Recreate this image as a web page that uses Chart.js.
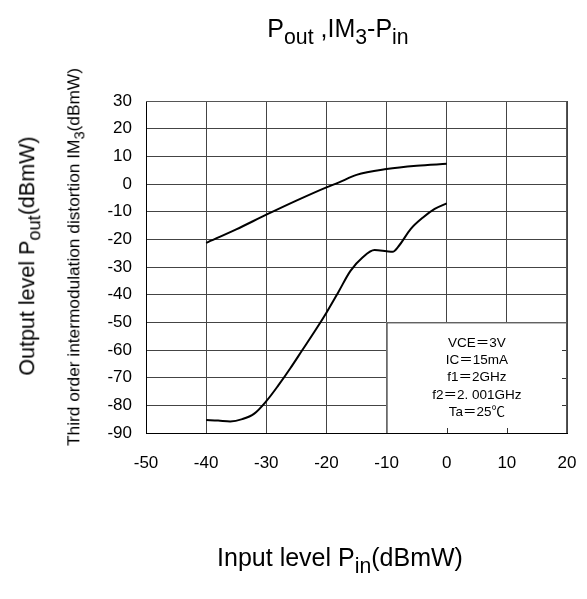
<!DOCTYPE html>
<html>
<head>
<meta charset="utf-8">
<script src="https://cdn.jsdelivr.net/npm/chart.js@4/dist/chart.umd.min.js"></script>
<style>
  html, body { margin: 0; padding: 0; background: #fff; }
  #wrap { position: relative; width: 587px; height: 599px; font-family: "Liberation Sans", Arial, sans-serif; color: #000; }
  #wrap canvas { position: absolute; left: 0; top: 0; }
  .lbl { position: absolute; white-space: nowrap; line-height: 1; }
  .lbl sub { font-size: 0.85em; vertical-align: -0.32em; line-height: 0; }
  #title { left: 338px; top: 16px; font-size: 25px; transform: translateX(-50%); }
  #xtitle { left: 340px; top: 545px; font-size: 25px; transform: translateX(-50%); }
  #ytitle1 { left: 28px; top: 256px; font-size: 21.5px; transform: translate(-50%, -50%) rotate(-90deg); }
  #ytitle2 { left: 74px; top: 257px; font-size: 17.3px; transform: translate(-50%, -50%) rotate(-90deg); }
</style>
</head>
<body>
<div id="wrap">
  <canvas id="c" width="587" height="599"></canvas>
  <div class="lbl" id="title">P<sub>out</sub> ,IM<sub>3</sub>-P<sub>in</sub></div>
  <div class="lbl" id="xtitle">Input level P<sub>in</sub>(dBmW)</div>
  <div class="lbl" id="ytitle1">Output level P<sub>out</sub>(dBmW)</div>
  <div class="lbl" id="ytitle2">Third order intermodulation distortion IM<sub>3</sub>(dBmW)</div>
</div>
<script>
// Input level (dBmW) and output power Pout (dBmW)
const poutPin    = [-40, -35, -30, -25, -20, -18, -15, -10, -5, 0];
const poutValues = [-21.3, -16.4, -11.1, -6.0, -1.2, 0.5, 3.3, 5.4, 6.6, 7.3];

// Input level (dBmW) and third order intermodulation IM3 (dBmW)
const im3Pin    = [-40, -38, -36, -34, -32, -30, -28, -26, -24, -22, -20, -18, -16, -14, -12, -10, -9, -8, -6, -4, -2, 0];
const im3Values = [-85.3, -85.5, -85.8, -85.0, -83.0, -78.5, -72.8, -66.6, -60.0, -53.4, -46.5, -39.0, -31.4, -26.6, -23.9, -24.3, -24.5, -22.5, -16.3, -12.2, -9.0, -7.0];

// Axis ranges and tick spacing
const xTicks = { min: -50, max: 20, step: 10 };
const yTicks = { min: -90, max: 30, step: 10 };

// Measurement conditions shown in the box
const conditionLines = ['VCE＝3V', 'IC＝15mA', 'f1＝2GHz', 'f2＝2. 001GHz', 'Ta＝25℃'];
// Box extent in data units: [xFrom, xTo, yFrom, yTo]
const conditionBox = [-10, 20, -90, -50];

const toPoints = (xs, ys) => xs.map((x, i) => ({ x, y: ys[i] }));

const conditionsPlugin = {
  id: 'conditions',
  beforeDatasetsDraw(chart) {
    const { ctx, chartArea, scales: { x, y } } = chart;
    const [x0v, x1v, y0v, y1v] = conditionBox;
    const left = x.getPixelForValue(x0v), right = x.getPixelForValue(x1v);
    const bottom = y.getPixelForValue(y0v), top = y.getPixelForValue(y1v);
    ctx.save();
    ctx.fillStyle = '#fff';
    ctx.fillRect(left, top, right - left, bottom - top);
    ctx.strokeStyle = '#333';
    ctx.lineWidth = 1;
    ctx.beginPath();
    ctx.moveTo(left + 0.5, bottom);
    ctx.lineTo(left + 0.5, top + 0.5);
    ctx.lineTo(right, top + 0.5);
    ctx.stroke();
    // short inner tick marks along the frame
    ctx.beginPath();
    for (let v = x0v + xTicks.step; v < x1v; v += xTicks.step) {
      const px = Math.round(x.getPixelForValue(v)) + 0.5;
      ctx.moveTo(px, bottom); ctx.lineTo(px, bottom - 5);
    }
    for (let v = y0v + yTicks.step; v < y1v; v += yTicks.step) {
      const py = Math.round(y.getPixelForValue(v)) + 0.5;
      ctx.moveTo(right, py); ctx.lineTo(right - 5, py);
    }
    ctx.stroke();
    // top and right frame of the plot area
    ctx.strokeStyle = '#555';
    ctx.beginPath();
    ctx.moveTo(chartArea.left, Math.round(chartArea.top) + 0.5);
    ctx.lineTo(Math.round(chartArea.right) - 0.5, Math.round(chartArea.top) + 0.5);
    ctx.lineTo(Math.round(chartArea.right) - 0.5, chartArea.bottom);
    ctx.stroke();
    ctx.fillStyle = '#000';
    ctx.font = '13.5px "Liberation Sans", Arial, "Noto Sans CJK JP", sans-serif';
    ctx.textAlign = 'center';
    ctx.textBaseline = 'middle';
    const cx = (left + right) / 2, cy = (top + bottom) / 2;
    const lh = 17.3;
    conditionLines.forEach((t, i) => {
      ctx.fillText(t, cx, cy + (i - (conditionLines.length - 1) / 2) * lh);
    });
    ctx.restore();
  }
};

new Chart(document.getElementById('c'), {
  type: 'line',
  data: {
    datasets: [
      { label: 'Pout', data: toPoints(poutPin, poutValues) },
      { label: 'IM3', data: toPoints(im3Pin, im3Values) }
    ]
  },
  options: {
    responsive: false,
    animation: false,
    events: [],
    layout: { padding: { left: 0, top: 101, right: 20, bottom: 0 } },
    elements: {
      line: { borderColor: '#000', borderWidth: 2, cubicInterpolationMode: 'monotone', fill: false },
      point: { radius: 0 }
    },
    plugins: { legend: { display: false }, title: { display: false }, tooltip: { enabled: false } },
    scales: {
      x: {
        type: 'linear', min: xTicks.min, max: xTicks.max,
        afterFit(s) { s.height = 166; s.paddingLeft = 0; s.paddingRight = 0; },
        border: { display: true, color: '#000', width: 1 },
        grid: { color: '#444', lineWidth: 1, drawTicks: false },
        ticks: { stepSize: xTicks.step, padding: 20, color: '#000', maxRotation: 0,
                 font: { family: '"Liberation Sans", Arial, sans-serif', size: 17 } }
      },
      y: {
        type: 'linear', min: yTicks.min, max: yTicks.max,
        afterFit(s) { s.width = 146; s.paddingTop = 0; s.paddingBottom = 0; },
        border: { display: true, color: '#000', width: 1 },
        grid: { color: '#444', lineWidth: 1, drawTicks: false },
        ticks: { stepSize: yTicks.step, padding: 14, color: '#000',
                 font: { family: '"Liberation Sans", Arial, sans-serif', size: 17 } }
      }
    }
  },
  plugins: [conditionsPlugin]
});
</script>
</body>
</html>
